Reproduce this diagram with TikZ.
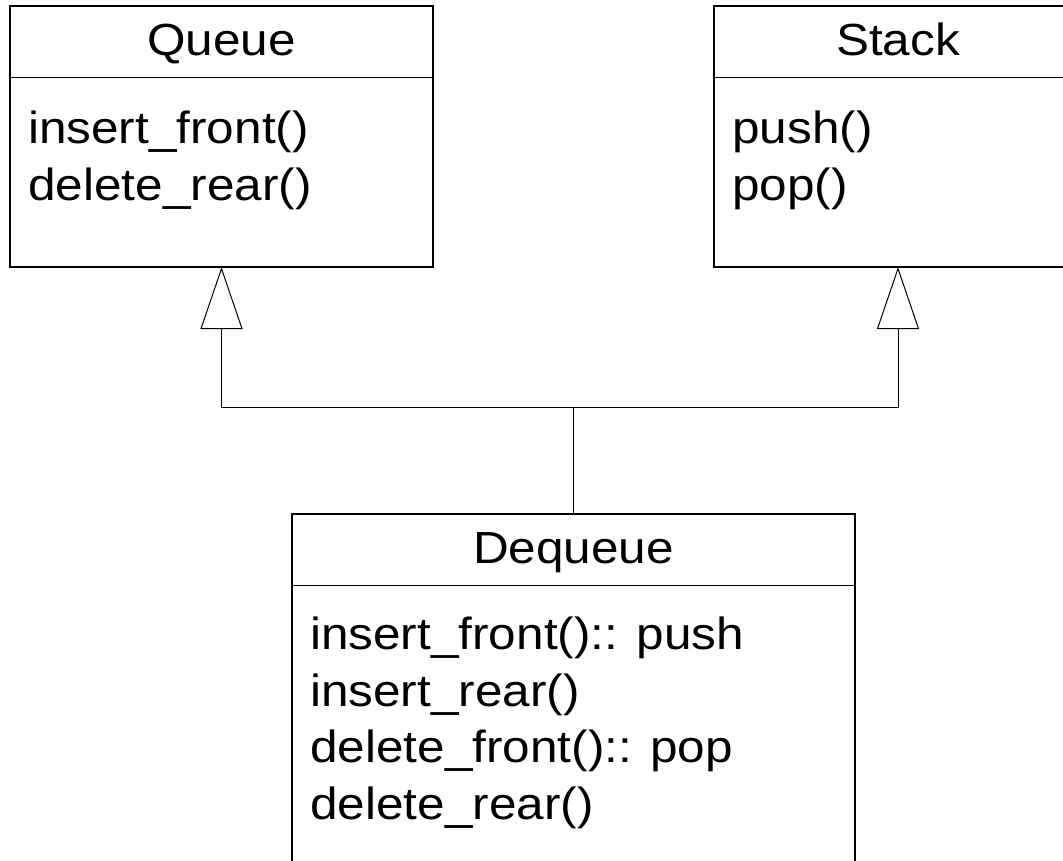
\documentclass[tikz,border=0pt]{standalone}
\usepackage{fontspec}
\setmainfont{Liberation Sans}[FakeStretch=1.1]
\usetikzlibrary{arrows.meta,positioning}

\tikzset{
  classbox/.style={draw, line width=1.5pt, inner sep=0pt, outer sep=0pt, anchor=north west},
  classname/.style={font=\fontsize{45}{56.5}\selectfont, inner sep=0pt, anchor=base},
  members/.style={font=\fontsize{45}{56.5}\selectfont, inner sep=0pt, align=left, anchor=base west},
  divider/.style={line width=1pt},
  inherit/.style={line width=1pt},
  generalize/.style={inherit, -{Triangle[open,length=62pt,width=42pt]}}
}

\begin{document}
\begin{tikzpicture}[x=1pt,y=-1pt]
        % picture frame
        \clip (0,0) rectangle (1063,860);
        % class Queue
        \node[classbox, minimum width=423pt, minimum height=261pt] (queue) at (10,6) {};
        \node[classname, yshift=-49pt] (queuename) at (queue.north) {Queue};
        \draw[divider] ([yshift=-71pt]queue.north west) -- ([yshift=-71pt]queue.north east);
        \node[members, xshift=18pt, yshift=-194pt] (queueops) at (queue.north west) {insert\_front()\\delete\_rear()};
        % class Stack
        \node[classbox, minimum width=368pt, minimum height=261pt] (stack) at (714,6) {};
        \node[classname, yshift=-49pt] (stackname) at (stack.north) {Stack};
        \draw[divider] ([yshift=-71pt]stack.north west) -- ([yshift=-71pt]stack.north east);
        \node[members, xshift=18pt, yshift=-194pt] (stackops) at (stack.north west) {push()\\pop()};
        % class Dequeue
        \node[classbox, minimum width=563pt, minimum height=400pt] (dequeue) at (292,514) {};
        \node[classname, yshift=-49pt] (dequeuename) at (dequeue.north) {Dequeue};
        \draw[divider] ([yshift=-71pt]dequeue.north west) -- ([yshift=-71pt]dequeue.north east);
        \node[members, xshift=18pt, yshift=-305pt] (dequeueops) at (dequeue.north west)
            {insert\_front():: push\\insert\_rear()\\delete\_front():: pop\\delete\_rear()};
        % generalization
        \coordinate (joint) at ([yshift=107pt]dequeue.north);
        \draw[inherit] (dequeue.north) -- (joint);
        \draw[generalize] (joint) -| (queue.south);
        \draw[generalize] (joint) -| (stack.south);
    \end{tikzpicture}
\end{document}
